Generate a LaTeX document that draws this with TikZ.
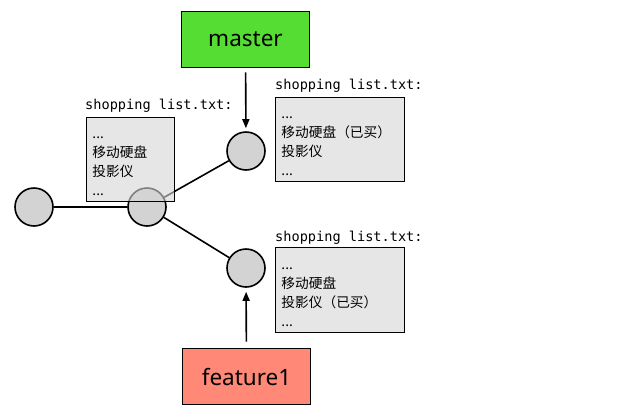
\documentclass[tikz,border=0pt]{standalone}
\usepackage{fontspec}
\usepackage{tikz}
\usetikzlibrary{arrows.meta}
\setmonofont{DejaVu Sans Mono}
\newfontfamily\cjkfont{Noto Sans CJK SC}
\newfontfamily\reffont{Noto Sans}
\definecolor{mastergreen}{HTML}{55DD33}
\definecolor{featurered}{HTML}{FF8877}
\definecolor{commitgray}{HTML}{D3D3D3}
\definecolor{listgray}{HTML}{D5D5D5}
\newcommand{\firstline}{\rule{0pt}{16pt}}
\tikzset{>={Triangle[length=9pt,width=7pt]}}
\tikzset{
  commit/.style={circle,draw,line width=1.6pt,fill=commitgray,minimum size=38pt,inner sep=0pt},
  refbox/.style={draw,line width=1.6pt,minimum width=128pt,minimum height=56pt,font=\reffont\fontsize{22.5}{26}\selectfont},
  listbox/.style={draw,line width=0.9pt,fill=listgray,fill opacity=0.6,text opacity=1,
    anchor=north west,align=left,inner xsep=6pt,inner ysep=0pt,
    font=\cjkfont\fontsize{13.7}{19}\selectfont},
  listlabel/.style={anchor=base west,inner sep=0pt,font=\ttfamily\fontsize{13.6}{15}\selectfont},
  link/.style={line width=1.6pt}
}

\begin{document}
\begin{tikzpicture}[x=1pt,y=-1pt]
\useasboundingbox (0,0) rectangle (636,418);
% commits
\node[commit] (c1) at (34,207) {};
\node[commit] (c2) at (147,207) {};
\node[commit] (c3) at (246,151) {};
\node[commit] (c4) at (246,268) {};
\draw[link] (c1) -- (c2);
\draw[link] (c2) -- (c3);
\draw[link] (c2) -- (c4);
% branches
\node[refbox,fill=mastergreen] (master) at (245.5,39.5) {master};
\node[refbox,fill=featurered] (feature) at (246.5,376.5) {feature1};
\draw[->,line width=1.6pt,shorten <=4pt,shorten >=3pt] (master) -- (c3);
\draw[->,line width=1.6pt,shorten <=6pt,shorten >=4pt] (feature) -- (c4);
% file contents
\node[listbox,text width=76pt,minimum height=84pt] (listA) at (86,117)
  {\firstline...\\移动硬盘\\投影仪\\...};
\node[listbox,text width=117pt,minimum height=84pt] (listB) at (275,97)
  {\firstline...\\移动硬盘（已买）\\投影仪\\...};
\node[listbox,text width=117pt,minimum height=85pt] (listC) at (275,247)
  {\firstline...\\移动硬盘\\投影仪（已买）\\...};
\node[listlabel] (lblA) at ([xshift=-1pt,yshift=7.5pt]listA.north west) {shopping list.txt:};
\node[listlabel] (lblB) at ([xshift=0pt,yshift=7.5pt]listB.north west) {shopping list.txt:};
\node[listlabel] (lblC) at ([xshift=0pt,yshift=6pt]listC.north west) {shopping list.txt:};
\end{tikzpicture}
\end{document}
